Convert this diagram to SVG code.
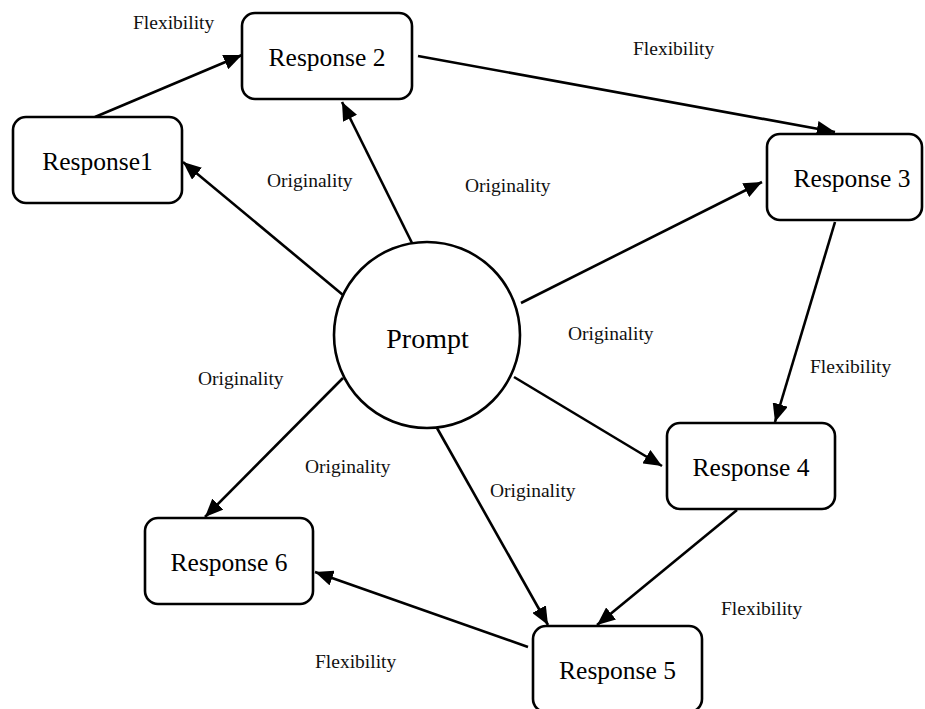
<svg xmlns="http://www.w3.org/2000/svg" width="925" height="709" viewBox="0 0 925 709">
<style>
.box{fill:#fff;stroke:#000;stroke-width:2.6}
.nt{font-size:25.5px;text-anchor:middle;fill:#000}
.lb{font-size:19.5px;fill:#111}
.ed{stroke:#000;stroke-width:2.6;fill:none;marker-end:url(#ah)}
</style>
<defs>
<marker id="ah" markerWidth="7" markerHeight="6" refX="7" refY="3" orient="auto" markerUnits="strokeWidth">
<path d="M0,0 L7,3 L0,6 Z" fill="#000"/>
</marker>
</defs>
<rect width="925" height="709" fill="#fff"/>
<g id="connectors">
<line class="ed" x1="95" y1="117" x2="242" y2="55"/>
<line class="ed" x1="418" y1="56" x2="835" y2="132"/>
<line class="ed" x1="343" y1="295" x2="183" y2="162"/>
<line class="ed" x1="412" y1="243" x2="342" y2="102"/>
<line class="ed" x1="521" y1="303" x2="762" y2="182"/>
<line class="ed" x1="835" y1="222" x2="775" y2="422"/>
<line class="ed" x1="514" y1="377" x2="662" y2="466"/>
<line class="ed" x1="737" y1="510" x2="597" y2="625"/>
<line class="ed" x1="437" y1="428" x2="548" y2="625"/>
<line class="ed" x1="343" y1="378" x2="205" y2="517"/>
<line class="ed" x1="528" y1="647" x2="315" y2="572"/>
</g>
<g id="labels" font-family="Liberation Serif, Times New Roman, serif">
<text class="lb" x="133" y="29">Flexibility</text>
<text class="lb" x="633" y="55">Flexibility</text>
<text class="lb" x="267" y="187">Originality</text>
<text class="lb" x="465" y="192">Originality</text>
<text class="lb" x="568" y="340">Originality</text>
<text class="lb" x="810" y="373">Flexibility</text>
<text class="lb" x="198" y="385">Originality</text>
<text class="lb" x="305" y="473">Originality</text>
<text class="lb" x="490" y="497">Originality</text>
<text class="lb" x="721" y="615">Flexibility</text>
<text class="lb" x="315" y="668">Flexibility</text>
</g>
<g id="prompt" font-family="Liberation Serif, Times New Roman, serif">
<circle cx="427" cy="335" r="93" fill="#fff" stroke="#000" stroke-width="2.6"/>
<text class="nt" x="427.5" y="348" style="font-size:28px">Prompt</text>
</g>
<g id="response1" font-family="Liberation Serif, Times New Roman, serif">
<rect class="box" x="13" y="117" width="169" height="86" rx="13"/>
<text class="nt" x="97.5" y="170">Response1</text>
</g>
<g id="response2" font-family="Liberation Serif, Times New Roman, serif">
<rect class="box" x="242" y="13" width="170" height="86" rx="13"/>
<text class="nt" x="327" y="66">Response 2</text>
</g>
<g id="response3" font-family="Liberation Serif, Times New Roman, serif">
<rect class="box" x="767" y="134" width="155" height="86" rx="13"/>
<text class="nt" x="852" y="187">Response 3</text>
</g>
<g id="response4" font-family="Liberation Serif, Times New Roman, serif">
<rect class="box" x="667" y="423" width="168" height="86" rx="13"/>
<text class="nt" x="751" y="476">Response 4</text>
</g>
<g id="response5" font-family="Liberation Serif, Times New Roman, serif">
<rect class="box" x="533" y="626" width="169" height="86" rx="13"/>
<text class="nt" x="617.5" y="679">Response 5</text>
</g>
<g id="response6" font-family="Liberation Serif, Times New Roman, serif">
<rect class="box" x="145" y="518" width="168" height="86" rx="13"/>
<text class="nt" x="229" y="571">Response 6</text>
</g>
</svg>
